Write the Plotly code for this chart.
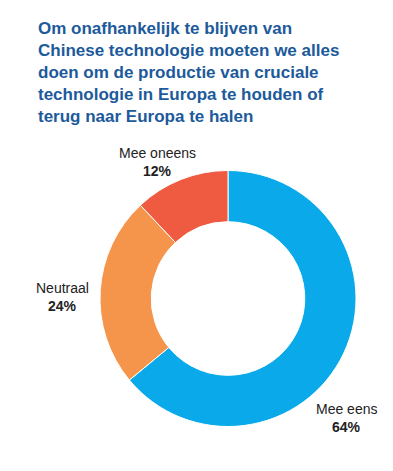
import plotly.graph_objects as go

categories = ["Mee eens", "Neutraal", "Mee oneens"]
values = [64, 24, 12]
colors = ["#0aaaea", "#f5954b", "#ef5b41"]
title_lines = [
    "Om onafhankelijk te blijven van",
    "Chinese technologie moeten we alles",
    "doen om de productie van cruciale",
    "technologie in Europa te houden of",
    "terug naar Europa te halen",
]

W, H = 393, 471
OFF = 8  # page body margin

def px(x):
    return (x - OFF) / W

def py(y):
    return 1 - (y - OFF) / H

fig = go.Figure(go.Pie(
    labels=categories,
    values=values,
    hole=0.6,
    sort=False,
    direction="clockwise",
    rotation=0,
    marker=dict(colors=colors, line=dict(color="white", width=1)),
    textinfo="none",
    hoverinfo="label+percent",
    showlegend=False,
    domain=dict(x=[px(100), px(356)], y=[py(427), py(170)]),
))

annotations = [
    dict(text="<b>" + "<br>".join(title_lines) + "</b>",
         x=px(36), y=py(17), xref="paper", yref="paper",
         xanchor="left", yanchor="top", align="left", showarrow=False,
         font=dict(family="Liberation Sans, Arial", size=17, color="#1c5a9b")),
]

label_pos = [(346, 409), (62, 288), (157, 153)]
for cat, val, (lx, ly) in zip(categories, values, label_pos):
    annotations.append(dict(text=cat, x=px(lx), y=py(ly), xref="paper", yref="paper",
                            xanchor="center", yanchor="middle", showarrow=False,
                            font=dict(family="Liberation Sans, Arial", size=14, color="#222222")))
    annotations.append(dict(text=f"<b>{val}%</b>", x=px(lx), y=py(ly + 18), xref="paper", yref="paper",
                            xanchor="center", yanchor="middle", showarrow=False,
                            font=dict(family="Liberation Sans, Arial", size=14, color="#222222")))

fig.update_layout(
    width=W, height=H,
    margin=dict(l=0, r=0, t=0, b=0),
    paper_bgcolor="white",
    plot_bgcolor="white",
    annotations=annotations,
)

fig.write_html("out.html")
